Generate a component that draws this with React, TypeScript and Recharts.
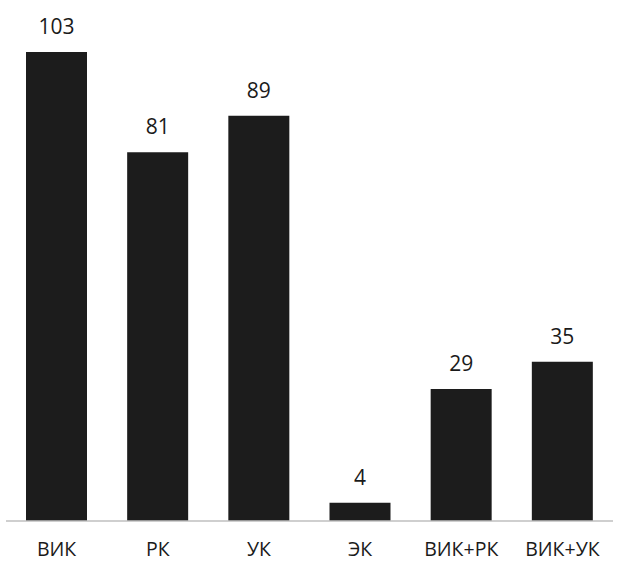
import { BarChart, Bar, XAxis, YAxis, LabelList } from "recharts";

const categories = ["ВИК", "РК", "УК", "ЭК", "ВИК+РК", "ВИК+УК"];
const counts = [103, 81, 89, 4, 29, 35];

const data = categories.map((name, i) => ({ name, count: counts[i] }));

const FONT = "'Open Sans', 'Noto Sans', sans-serif";

export default function App() {
    return (
        <div style={{ position: "absolute", left: 0, top: 0, background: "#fff" }}>
            <BarChart
                width={621}
                height={563}
                data={data}
                margin={{ top: 52, right: 8, left: 6, bottom: 6 }}
            >
                <XAxis
                    dataKey="name"
                    height={36}
                    tickLine={false}
                    tickSize={0}
                    tickMargin={21}
                    axisLine={{ stroke: "#bfbfbf", strokeWidth: 1.5 }}
                    tick={{ fill: "#1a1a1a", fontSize: 19.5, fontFamily: FONT }}
                    interval={0}
                />
                <YAxis hide domain={[0, 103]} />
                <Bar dataKey="count" fill="#1c1c1c" barSize={61} isAnimationActive={false}>
                    <LabelList
                        dataKey="count"
                        position="top"
                        offset={18}
                        fill="#1a1a1a"
                        fontSize={21}
                        fontFamily={FONT}
                    />
                </Bar>
            </BarChart>
        </div>
    );
}
